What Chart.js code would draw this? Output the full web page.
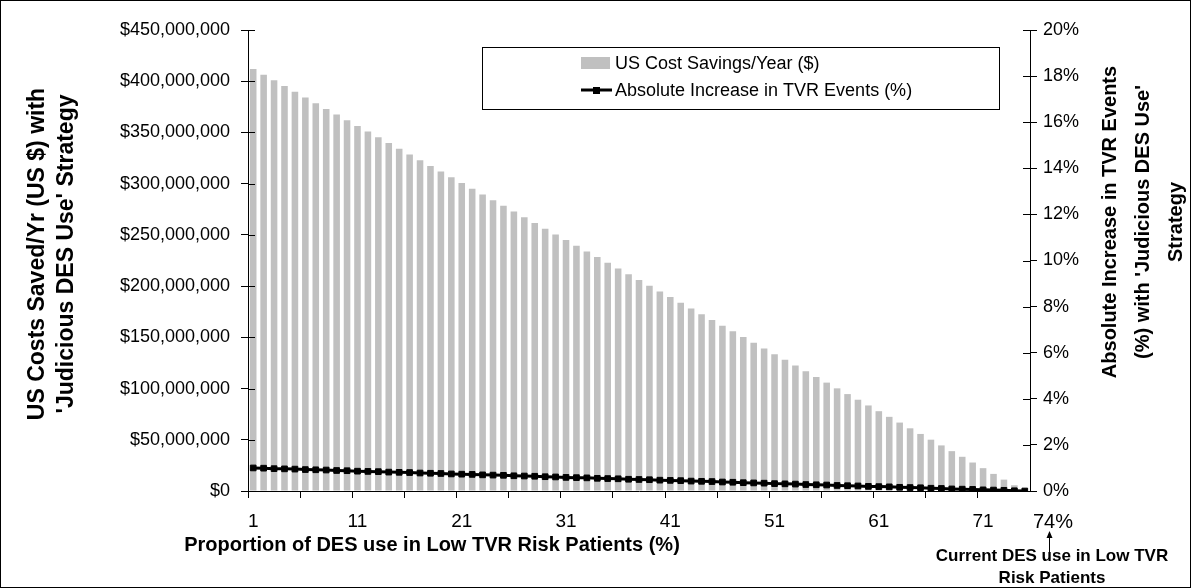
<!DOCTYPE html>
<html><head><meta charset="utf-8">
<script src="https://cdn.jsdelivr.net/npm/chart.js@4.4.1/dist/chart.umd.min.js"></script>
<style>html,body{margin:0;padding:0;background:#fff}canvas{display:block}</style>
</head><body>
<canvas id="c" width="1191" height="588" style="width:1191px;height:588px"></canvas>
<script>
// ---- data ----
const categories = ['1','2','3','4','5','6','7','8','9','10','11','12','13','14','15','16','17','18','19','20',
  '21','22','23','24','25','26','27','28','29','30','31','32','33','34','35','36','37','38','39','40',
  '41','42','43','44','45','46','47','48','49','50','51','52','53','54','55','56','57','58','59','60',
  '61','62','63','64','65','66','67','68','69','70','71','72','73','74','75'];
const costSavings = [412.0,406.4,400.9,395.3,389.7,384.2,378.6,373.0,367.5,361.9,356.3,350.8,345.2,339.6,334.0,
  328.5,322.9,317.3,311.8,306.2,300.6,295.1,289.5,283.9,278.4,272.8,267.2,261.7,256.1,250.5,245.0,239.4,233.8,
  228.3,222.7,217.1,211.6,206.0,200.4,194.8,189.3,183.7,178.1,172.6,167.0,161.4,155.9,150.3,144.7,139.2,133.6,
  128.0,122.5,116.9,111.3,105.8,100.2,94.6,89.1,83.5,77.9,72.4,66.8,61.2,55.7,50.1,44.5,38.9,33.4,27.8,22.3,
  16.7,11.1,5.6,0.0]; // millions of US$
const tvrIncrease = [1.00,0.99,0.97,0.96,0.95,0.93,0.92,0.91,0.89,0.88,0.86,0.85,0.84,0.82,0.81,0.80,0.78,0.77,
  0.76,0.74,0.73,0.72,0.70,0.69,0.68,0.66,0.65,0.64,0.62,0.61,0.59,0.58,0.57,0.55,0.54,0.53,0.51,0.50,0.49,0.47,
  0.46,0.45,0.43,0.42,0.41,0.39,0.38,0.36,0.35,0.34,0.32,0.31,0.30,0.28,0.27,0.26,0.24,0.23,0.22,0.20,0.19,0.18,
  0.16,0.15,0.14,0.12,0.11,0.09,0.08,0.07,0.05,0.04,0.03,0.01,0.00]; // %
const xTickLabels = ['1','11','21','31','41','51','61','71'];
const endLabel = '74%';
const seriesNames = ['US Cost Savings/Year ($)', 'Absolute Increase in TVR Events (%)'];
const xTitle = 'Proportion of DES use in Low TVR Risk Patients (%)';
const yLeftTitle = ["US Costs Saved/Yr (US $) with", "'Judicious DES Use' Strategy"];
const yRightTitle = ["Absolute Increase in TVR Events", "(%) with 'Judicious DES Use'", "Strategy"];
const noteLines = ['Current DES use in Low TVR', 'Risk Patients'];

// ---- chart ----
const FONT = '"Liberation Sans", Arial, sans-serif';
const BAR = '#c0c0c0';

const decor = {
  id: 'decor',
  afterDraw(chart) {
    const ctx = chart.ctx, a = chart.chartArea;
    const yl = chart.scales.y, yr = chart.scales.y1;
    ctx.save();
    ctx.strokeStyle = '#000'; ctx.lineWidth = 1;
    // inner halves of the crossing tick marks
    yl.ticks.forEach(t => { const p = Math.round(yl.getPixelForValue(t.value)) + 0.5;
      ctx.beginPath(); ctx.moveTo(a.left, p); ctx.lineTo(a.left + 7, p); ctx.stroke(); });
    yr.ticks.forEach(t => { const p = Math.round(yr.getPixelForValue(t.value)) + 0.5;
      ctx.beginPath(); ctx.moveTo(a.right - 7, p); ctx.lineTo(a.right, p); ctx.stroke(); });

    ctx.fillStyle = '#000';
    ctx.textAlign = 'center'; ctx.textBaseline = 'middle';
    // end label
    ctx.font = '20px ' + FONT;
    ctx.fillText(endLabel, 1053, 522);
    // arrow
    ctx.beginPath(); ctx.moveTo(1049.5, 556); ctx.lineTo(1049.5, 535); ctx.stroke();
    ctx.beginPath(); ctx.moveTo(1049.5, 531); ctx.lineTo(1046.5, 538); ctx.lineTo(1052.5, 538); ctx.closePath(); ctx.fill();
    // note
    ctx.font = 'bold 17px ' + FONT;
    ctx.fillText(noteLines[0], 1052, 556);
    ctx.fillText(noteLines[1], 1052, 578);
    // x title
    ctx.font = 'bold 20px ' + FONT;
    ctx.fillText(xTitle, 432, 545);
    // left title
    ctx.font = 'bold 23px ' + FONT;
    ctx.save(); ctx.translate(38, 254); ctx.rotate(-Math.PI / 2);
    ctx.fillText(yLeftTitle[0], 0, 0); ctx.fillText(yLeftTitle[1], 0, 29); ctx.restore();
    // right title
    ctx.font = 'bold 20px ' + FONT;
    ctx.save(); ctx.translate(1110, 222); ctx.rotate(-Math.PI / 2);
    yRightTitle.forEach((s, i) => ctx.fillText(s, 0, i * 33)); ctx.restore();

    // legend box
    ctx.fillStyle = '#fff'; ctx.fillRect(482, 47, 518, 63);
    ctx.strokeStyle = '#000'; ctx.strokeRect(482.5, 47.5, 517, 62);
    ctx.fillStyle = BAR; ctx.fillRect(581, 57, 29, 12);
    ctx.strokeStyle = '#000'; ctx.lineWidth = 3;
    ctx.beginPath(); ctx.moveTo(581, 90); ctx.lineTo(612, 90); ctx.stroke();
    ctx.fillStyle = '#000'; ctx.fillRect(593, 87, 7, 7);
    ctx.font = '18px ' + FONT; ctx.textAlign = 'left';
    ctx.fillText(seriesNames[0], 615, 64);
    ctx.fillText(seriesNames[1], 615, 91);

    // outer frame
    ctx.lineWidth = 1; ctx.strokeStyle = '#000';
    ctx.strokeRect(0.5, 0.5, 1190, 587);
    ctx.restore();
  }
};

new Chart(document.getElementById('c'), {
  data: {
    labels: categories,
    datasets: [
      { type: 'line', label: seriesNames[1], data: tvrIncrease, yAxisID: 'y1', order: 0,
        borderColor: '#000', borderWidth: 3, tension: 0,
        pointStyle: 'rect', pointRadius: 4, pointBorderWidth: 1,
        pointBackgroundColor: '#000', pointBorderColor: '#000' },
      { type: 'bar', label: seriesNames[0], data: costSavings.map(v => v * 1e6), yAxisID: 'y', order: 1,
        backgroundColor: BAR, categoryPercentage: 1, barPercentage: 0.63 }
    ]
  },
  options: {
    responsive: false, animation: false,
    layout: { padding: { top: 30, left: 0, right: 0, bottom: 0 } },
    plugins: { legend: { display: false }, tooltip: { enabled: false } },
    scales: {
      x: {
        offset: true,
        grid: { display: true, drawOnChartArea: false, drawTicks: true, tickLength: 7, offset: true,
          color: c => (c.index % 5 === 0 ? '#000' : 'rgba(0,0,0,0)') },
        border: { display: true, color: '#000', width: 1 },
        ticks: { autoSkip: false, maxRotation: 0, minRotation: 0, padding: 12, color: '#000',
          font: { family: FONT, size: 19 },
          callback: (v, i) => (xTickLabels.includes(categories[i]) ? categories[i] : '') },
        afterFit: s => { s.height = 97; }
      },
      y: {
        position: 'left', min: 0, max: 450e6,
        grid: { drawOnChartArea: false, tickLength: 7, color: '#000' },
        border: { display: true, color: '#000', width: 1 },
        ticks: { stepSize: 50e6, padding: 11, color: '#000', font: { family: FONT, size: 18 },
          callback: v => '$' + Number(v).toLocaleString('en-US') },
        afterFit: s => { s.width = 248; }
      },
      y1: {
        position: 'right', min: 0, max: 20,
        grid: { drawOnChartArea: false, tickLength: 7, color: '#000' },
        border: { display: true, color: '#000', width: 1 },
        ticks: { stepSize: 2, padding: 6, color: '#000', font: { family: FONT, size: 18 },
          callback: v => v + '%' },
        afterFit: s => { s.width = 161; }
      }
    }
  },
  plugins: [decor]
});
</script>
</body></html>
